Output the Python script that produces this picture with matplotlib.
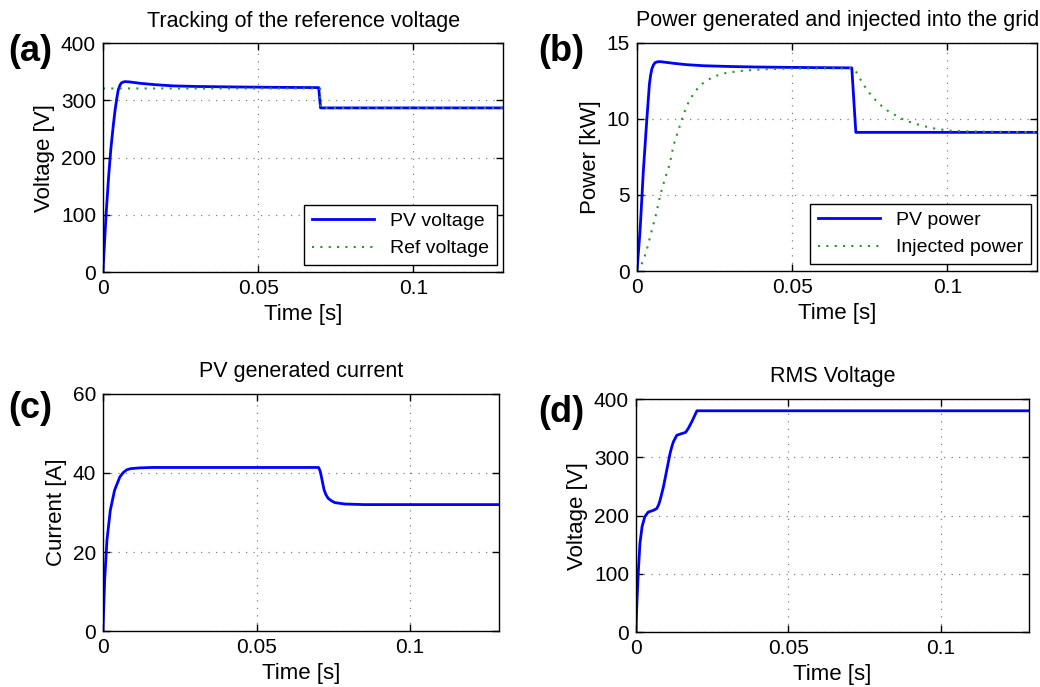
import matplotlib
matplotlib.use('Agg')
import matplotlib.pyplot as plt

plt.rcParams['font.family'] = ['Liberation Sans', 'DejaVu Sans']
plt.rcParams['font.size'] = 14

# (a) tracking of the reference voltage
t_pv_v = [0, 0.0005, 0.001, 0.0018, 0.0025, 0.0033, 0.0039, 0.0045, 0.0049, 0.0055, 0.006, 0.007,
          0.0085, 0.012, 0.017, 0.0227, 0.03, 0.04, 0.055, 0.0695, 0.0701, 0.129]
pv_voltage = [0, 50, 100, 165, 213, 255, 283, 305, 318, 327, 331, 333,
              332.5, 330, 327.5, 325.5, 324.5, 323.8, 323, 322.5, 287, 287]
t_ref_v = [0, 0.07, 0.0701, 0.129]
ref_voltage = [321, 321, 287, 287]

# (b) power generated and injected
t_pv_p = [0, 0.001, 0.00205, 0.00314, 0.004, 0.0044, 0.0048, 0.0053, 0.0058, 0.0066, 0.0075, 0.0095,
          0.0118, 0.016, 0.0215, 0.03, 0.0377, 0.05, 0.0692, 0.0705, 0.129]
pv_power = [0, 2.7, 6.6, 9.9, 12.3, 12.9, 13.3, 13.55, 13.7, 13.76, 13.77, 13.72,
            13.66, 13.57, 13.5, 13.45, 13.42, 13.39, 13.36, 9.12, 9.12]
t_inj_p = [0, 0.0012, 0.0029, 0.0048, 0.0061, 0.0075, 0.0089, 0.0105, 0.0118, 0.0134, 0.0148,
           0.0167, 0.0188, 0.0215, 0.0248, 0.0291, 0.0345, 0.041, 0.0486, 0.0695,
           0.0703, 0.0713, 0.0726, 0.0739, 0.0754, 0.0771, 0.0788, 0.0807, 0.0828, 0.085,
           0.0872, 0.0895, 0.0919, 0.0943, 0.0967, 0.099, 0.1014, 0.1038, 0.1063, 0.129]
inj_power = [0, 0.3, 1.2, 2.7, 3.7, 5.0, 6.0, 7.0, 8.3, 9.3, 10.2,
             11.15, 11.85, 12.4, 12.8, 13.05, 13.18, 13.27, 13.31, 13.33,
             13.22, 12.83, 12.39, 11.97, 11.58, 11.18, 10.86, 10.55, 10.3, 10.04,
             9.85, 9.69, 9.56, 9.43, 9.34, 9.28, 9.22, 9.2, 9.18, 9.13]

# (c) PV generated current
t_cur = [0, 0.00056, 0.0013, 0.0024, 0.0038, 0.0055, 0.0066, 0.0077, 0.009, 0.012, 0.016,
         0.0702, 0.0707, 0.0711, 0.0716, 0.072, 0.0726, 0.0733, 0.0743, 0.0755, 0.0787, 0.085, 0.129]
pv_current = [0, 12.9, 23, 30.6, 35.7, 39, 40.1, 40.8, 41.1, 41.3, 41.4,
              41.4, 40.5, 39.1, 37.2, 35.7, 34.5, 33.6, 33.0, 32.5, 32.15, 32.0, 32.0]

# (d) RMS voltage
t_rms = [0, 0.0003, 0.0008, 0.0013, 0.002, 0.0029, 0.004, 0.0057, 0.0068, 0.0074, 0.0079, 0.009, 0.0101,
         0.0112, 0.0118, 0.0123, 0.0134, 0.0151, 0.0163, 0.0172, 0.0184, 0.02, 0.129]
rms_voltage = [0, 49, 106, 152, 181, 198, 206, 209, 212, 218, 226, 249, 278,
               307, 319, 327, 338, 341, 343, 350, 362, 380, 380]

BLUE = (0, 0, 1)
GREEN = (0.15, 0.6, 0.15)


def style_axes(ax, ylim, yticks):
    ax.set_xlim(0, 0.129)
    ax.set_ylim(*ylim)
    ax.set_xticks([0, 0.05, 0.1])
    ax.set_xticklabels(['0', '0.05', '0.1'])
    ax.set_yticks(yticks)
    ax.tick_params(direction='in', top=True, right=True, length=5, width=1, labelsize=15, pad=5)
    ax.grid(True, color='0.5', linestyle=(0, (1, 5)), linewidth=0.9)
    for s in ax.spines.values():
        s.set_linewidth(1.0)
    ax.set_xlabel('Time [s]', fontsize=16, labelpad=4)


def add_legend(ax):
    leg = ax.legend(loc='lower right', fancybox=False, edgecolor='black', fontsize=14,
                    handlelength=3.2, borderaxespad=0.35, framealpha=1)
    leg.get_frame().set_linewidth(1.0)


fig = plt.figure(figsize=(10.4, 6.87), dpi=100)

ax_a = fig.add_axes([0.099, 0.604, 0.385, 0.333])
ax_b = fig.add_axes([0.6125, 0.6055, 0.385, 0.332])
ax_c = fig.add_axes([0.099, 0.0815, 0.381, 0.345])
ax_d = fig.add_axes([0.6115, 0.080, 0.378, 0.339])

# (a)
ax_a.plot(t_pv_v, pv_voltage, color=BLUE, lw=2, label='PV voltage')
ax_a.plot(t_ref_v, ref_voltage, color=GREEN, lw=1.5, linestyle=(0, (1, 3)), label='Ref voltage')
style_axes(ax_a, (0, 400), [0, 100, 200, 300, 400])
ax_a.set_ylabel('Voltage [V]', fontsize=16)
ax_a.set_title('Tracking of the reference voltage', fontsize=15.5, pad=12)
add_legend(ax_a)

# (b)
ax_b.plot(t_pv_p, pv_power, color=BLUE, lw=2, label='PV power')
ax_b.plot(t_inj_p, inj_power, color=GREEN, lw=1.5, linestyle=(0, (1, 3)), label='Injected power')
style_axes(ax_b, (0, 15), [0, 5, 10, 15])
ax_b.set_ylabel('Power [kW]', fontsize=16)
ax_b.set_title('Power generated and injected into the grid', fontsize=15.5, pad=12)
add_legend(ax_b)

# (c)
ax_c.plot(t_cur, pv_current, color=BLUE, lw=2)
style_axes(ax_c, (0, 60), [0, 20, 40, 60])
ax_c.set_ylabel('Current [A]', fontsize=16)
ax_c.set_title('PV generated current', fontsize=15.5, pad=12)

# (d)
ax_d.plot(t_rms, rms_voltage, color=BLUE, lw=2)
style_axes(ax_d, (0, 400), [0, 100, 200, 300, 400])
ax_d.set_ylabel('Voltage [V]', fontsize=16)
ax_d.set_title('RMS Voltage', fontsize=15.5, pad=12)

# panel letters
for lbl, x, y in [('(a)', 0.008, 0.925), ('(b)', 0.518, 0.925), ('(c)', 0.008, 0.405), ('(d)', 0.518, 0.40)]:
    fig.text(x, y, lbl, fontsize=26, fontweight='bold', va='center', ha='left')

fig.savefig('out.png', dpi=100)
